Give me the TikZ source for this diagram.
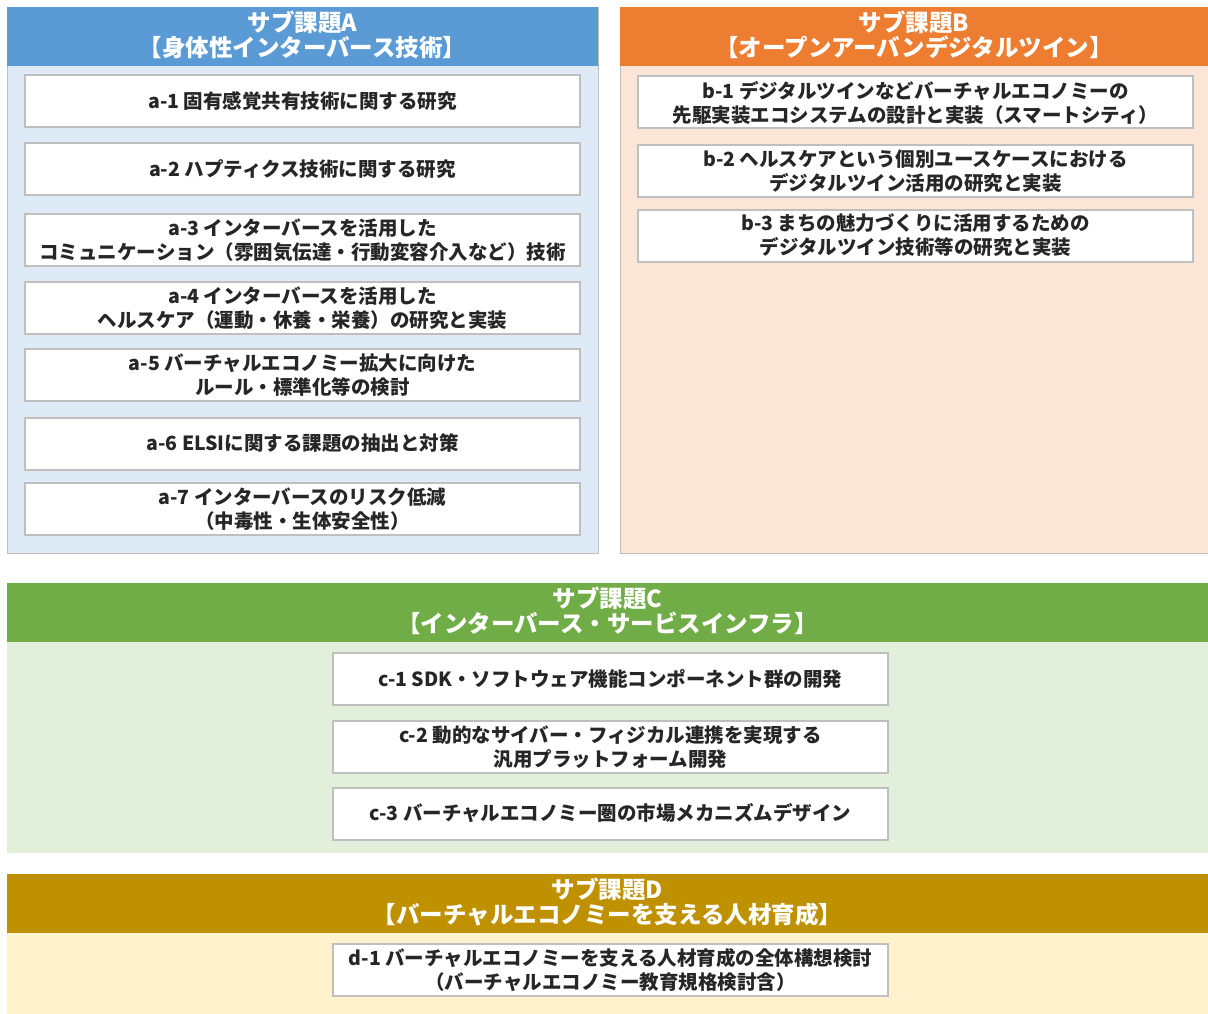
\documentclass[tikz,border=0pt]{standalone}
\usepackage{fontspec}
\setmainfont{Noto Sans CJK JP}
\definecolor{Ahead}{HTML}{5B9BD5}
\definecolor{Abody}{HTML}{DEEBF7}
\definecolor{Bhead}{HTML}{ED7D31}
\definecolor{Bbody}{HTML}{FBE5D6}
\definecolor{Chead}{HTML}{70AD47}
\definecolor{Cbody}{HTML}{E2EFDA}
\definecolor{Dhead}{HTML}{BF9000}
\definecolor{Dbody}{HTML}{FFF2CC}
\definecolor{boxline}{HTML}{BFBFBF}
\definecolor{txt}{HTML}{262626}
\tikzset{
  panelbody/.style={draw=boxline, line width=0.8pt},
  headtext/.style={text=white, font=\bfseries\fontsize{23.5}{25}\selectfont, align=center, inner sep=0pt},
  itembox/.style={draw=boxline, line width=2pt, fill=white, text=txt, align=center, inner sep=0pt,
    font=\bfseries\fontsize{19.5}{24}\selectfont, minimum width=555pt, minimum height=52pt},
}
\begin{document}
\begin{tikzpicture}[x=1pt,y=-1pt]
\useasboundingbox[fill=white] (0,0) rectangle (1208,1014);
% Panel A
\fill[Abody] (7,7) rectangle (598,553);
\draw[panelbody] (7,7) rectangle (598,553);
\fill[Ahead] (7,7) rectangle (598,66);
\node[headtext] (hA) at (302.5,35) {サブ課題A\\【身体性インターバース技術】};
% Panel B
\fill[Bbody] (620,7) rectangle (1208,553);
\draw[panelbody] (620,7) rectangle (1208,553);
\fill[Bhead] (620,7) rectangle (1208,66);
\node[headtext] (hB) at (914,35) {サブ課題B\\【オープンアーバンデジタルツイン】};
% Panel C
\fill[Cbody] (7,583) rectangle (1208,853);
\draw[boxline, line width=0.8pt] (7,583) -- (1208,583);
\fill[Chead] (7,583) rectangle (1208,642);
\node[headtext] (hC) at (607.5,611) {サブ課題C\\【インターバース・サービスインフラ】};
% Panel D
\fill[Dbody] (7,874) rectangle (1208,1014);
\draw[boxline, line width=0.8pt] (7,874) -- (1208,874);
\fill[Dhead] (7,874) rectangle (1208,933);
\node[headtext] (hD) at (607.5,902) {サブ課題D\\【バーチャルエコノミーを支える人材育成】};
% A items
\node[itembox] (a1) at (302.5,101) {a-1 固有感覚共有技術に関する研究};
\node[itembox] (a2) at (302.5,169) {a-2 ハプティクス技術に関する研究};
\node[itembox] (a3) at (302.5,240) {a-3 インターバースを活用した\\コミュニケーション（雰囲気伝達・行動変容介入など）技術};
\node[itembox] (a4) at (302.5,308) {a-4 インターバースを活用した\\ヘルスケア（運動・休養・栄養）の研究と実装};
\node[itembox] (a5) at (302.5,375) {a-5 バーチャルエコノミー拡大に向けた\\ルール・標準化等の検討};
\node[itembox] (a6) at (302.5,443.5) {a-6 ELSIに関する課題の抽出と対策};
\node[itembox] (a7) at (302.5,509) {a-7 インターバースのリスク低減\\（中毒性・生体安全性）};
% B items
\node[itembox] (b1) at (915.5,102.5) {b-1 デジタルツインなどバーチャルエコノミーの\\先駆実装エコシステムの設計と実装（スマートシティ）};
\node[itembox] (b2) at (915.5,171) {b-2 ヘルスケアという個別ユースケースにおける\\デジタルツイン活用の研究と実装};
\node[itembox] (b3) at (915.5,235.5) {b-3 まちの魅力づくりに活用するための\\デジタルツイン技術等の研究と実装};
% C items
\node[itembox] (c1) at (610.5,679) {c-1 SDK・ソフトウェア機能コンポーネント群の開発};
\node[itembox] (c2) at (610.5,747) {c-2 動的なサイバー・フィジカル連携を実現する\\汎用プラットフォーム開発};
\node[itembox] (c3) at (610.5,813.5) {c-3 バーチャルエコノミー圏の市場メカニズムデザイン};
% D items
\node[itembox] (d1) at (610.5,970) {d-1 バーチャルエコノミーを支える人材育成の全体構想検討\\（バーチャルエコノミー教育規格検討含）};
\end{tikzpicture}
\end{document}
